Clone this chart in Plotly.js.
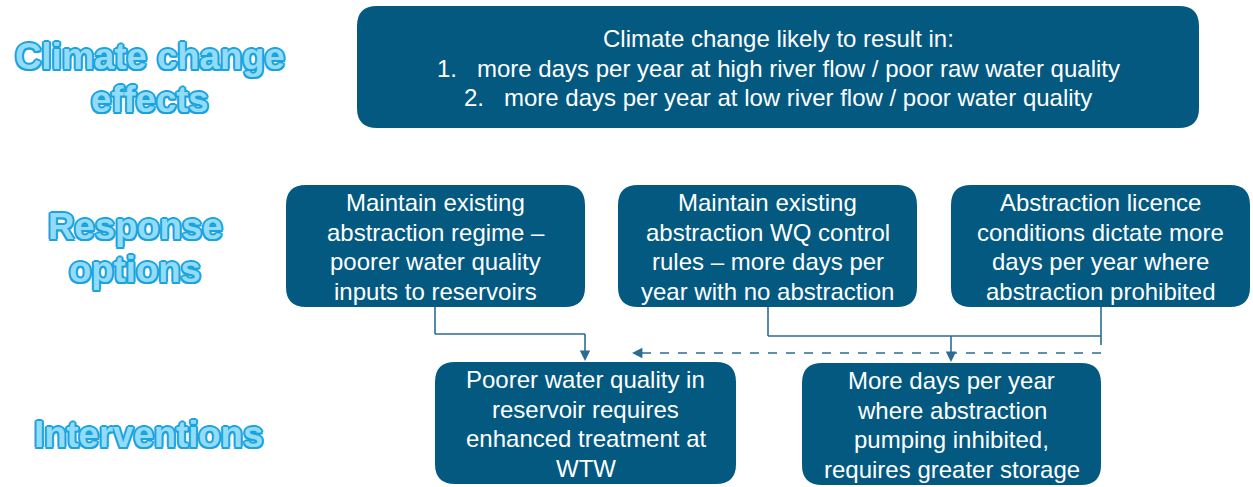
<!DOCTYPE html>
<html>
<head>
<meta charset="utf-8">
<script src="https://cdn.plot.ly/plotly-3.0.1.min.js"></script>
<style>html,body{margin:0;padding:0;background:#fff;}#chart{width:1253px;height:487px;}</style>
</head>
<body>
<div id="chart"></div>
<script>
// ---- content ----
const rowHeadings = [["Climate change", "effects"], ["Response", "options"], ["Interventions"]];
const effectLines = [
  "Climate change likely to result in:",
  "1.\u00a0\u00a0 more days per year at high river flow / poor raw water quality",
  "2.\u00a0\u00a0 more days per year at low river flow / poor water quality"
];
const responseLines = [
  ["Maintain existing", "abstraction regime \u2013", "poorer water quality", "inputs to reservoirs"],
  ["Maintain existing", "abstraction WQ control", "rules \u2013 more days per", "year with no abstraction"],
  ["Abstraction licence", "conditions dictate more", "days per year where", "abstraction prohibited"]
];
const interventionLines = [
  ["Poorer water quality in", "reservoir requires", "enhanced treatment at", "WTW"],
  ["More days per year", "where abstraction", "pumping inhibited,", "requires greater storage"]
];

// ---- geometry (pixel-like diagram coordinates) ----
const W = 1253, H = 487;
const topBox = {x0: 357, x1: 1199, y0: 6, y1: 128};
const respBoxes = [{x0: 286, x1: 585}, {x0: 618, x1: 917}, {x0: 951, x1: 1250}].map(b => ({...b, y0: 185, y1: 307}));
const intBoxes = [{x0: 435, x1: 736, y0: 362, y1: 484}, {x0: 802, x1: 1101, y0: 363, y1: 485}];
const headingPos = [{x: 150, ys: [56, 99]}, {x: 135, ys: [226, 269]}, {x: 148, ys: [434]}];

const BOX = '#03597f';
const LINE = '#2a6d93';
const FONT = 'Liberation Sans, Arial, sans-serif';
const OUT = '#1aa3de';
const shadow = [[2,0],[-2,0],[0,2],[0,-2],[1.5,1.5],[-1.5,1.5],[1.5,-1.5],[-1.5,-1.5]]
  .map(p => `${p[0]}px ${p[1]}px 0 ${OUT}`).join(', ');

function rr(b, r) {
  const {x0, y0, x1, y1} = b;
  return `M${x0+r},${y0} L${x1-r},${y0} Q${x1},${y0} ${x1},${y0+r} L${x1},${y1-r} Q${x1},${y1} ${x1-r},${y1} L${x0+r},${y1} Q${x0},${y1} ${x0},${y1-r} L${x0},${y0+r} Q${x0},${y0} ${x0+r},${y0} Z`;
}

const shapes = [];
const annotations = [];

[topBox, ...respBoxes, ...intBoxes].forEach(b => {
  shapes.push({type: 'path', xref: 'x', yref: 'y', path: rr(b, 20), fillcolor: BOX, line: {width: 0}, layer: 'below'});
});

function boxText(b, lines, spacing, size) {
  const cx = (b.x0 + b.x1) / 2, cy = (b.y0 + b.y1) / 2 + 1;
  const n = lines.length;
  lines.forEach((t, i) => {
    annotations.push({
      x: cx, y: cy + (i - (n - 1) / 2) * spacing, xref: 'x', yref: 'y',
      text: t, showarrow: false, xanchor: 'center', yanchor: 'middle',
      font: {family: FONT, size: size, color: '#ffffff'}
    });
  });
}
boxText(topBox, effectLines, 29.5, 24);
respBoxes.forEach((b, i) => boxText(b, responseLines[i], 29.5, 24));
intBoxes.forEach((b, i) => boxText(b, interventionLines[i], 29.5, 24));

rowHeadings.forEach((lines, i) => {
  lines.forEach((t, j) => {
    annotations.push({
      x: headingPos[i].x, y: headingPos[i].ys[j], xref: 'x', yref: 'y',
      text: t, showarrow: false, xanchor: 'center', yanchor: 'middle',
      font: {family: FONT, size: 36.5, color: '#93dcf7', weight: 700, shadow: shadow}
    });
  });
});

// connectors
function seg(x0, y0, x1, y1, dash) {
  shapes.push({type: 'line', xref: 'x', yref: 'y', x0, y0, x1, y1, line: {color: LINE, width: 1.6, dash: dash || 'solid'}});
}
function arrow(x, y, ax, ay) {
  annotations.push({x, y, ax, ay, xref: 'x', yref: 'y', axref: 'x', ayref: 'y', text: '', showarrow: true,
    arrowhead: 2, arrowsize: 1.3, arrowwidth: 1.6, arrowcolor: LINE, standoff: 0, startstandoff: 0});
}
const r1x = 435, r2x = 768, r3x = 1101;
const busY1 = 334, busY2 = 336, dashY = 353;
const a1x = 585, a2x = 951, dashEnd = 632;
seg(r1x, respBoxes[0].y1, r1x, busY1);
seg(r1x, busY1, a1x, busY1);
seg(a1x, busY1, a1x, intBoxes[0].y0 - 8);
arrow(a1x, intBoxes[0].y0 - 1, a1x, intBoxes[0].y0 - 12);
seg(r2x, respBoxes[1].y1, r2x, busY2);
seg(r2x, busY2, r3x, busY2);
seg(r3x, respBoxes[2].y1, r3x, busY2);
seg(a2x, busY2, a2x, intBoxes[1].y0 - 8);
arrow(a2x, intBoxes[1].y0 - 1, a2x, intBoxes[1].y0 - 12);
seg(r3x, busY2, r3x, dashY, 'dash');
seg(r3x, dashY, dashEnd + 8, dashY, 'dash');
arrow(dashEnd, dashY, dashEnd + 10, dashY);

const layout = {
  width: W, height: H,
  margin: {l: 0, r: 0, t: 0, b: 0},
  paper_bgcolor: '#ffffff', plot_bgcolor: '#ffffff',
  showlegend: false,
  xaxis: {range: [0, W], visible: false, fixedrange: true},
  yaxis: {range: [H, 0], visible: false, fixedrange: true},
  shapes, annotations
};
Plotly.newPlot('chart', [{x: [], y: [], type: 'scatter', hoverinfo: 'skip'}], layout, {displayModeBar: false, staticPlot: true});
</script>
</body>
</html>
